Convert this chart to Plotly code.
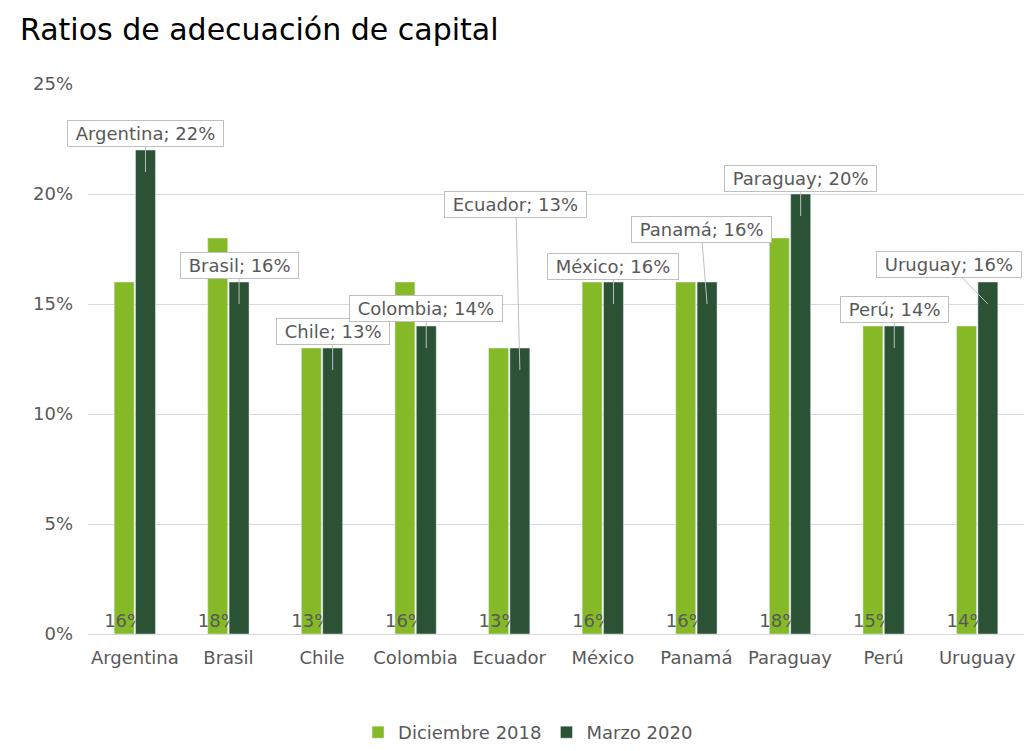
import plotly.graph_objects as go

categories = ["Argentina", "Brasil", "Chile", "Colombia", "Ecuador",
              "México", "Panamá", "Paraguay", "Perú", "Uruguay"]
dic_2018 = [0.16, 0.18, 0.13, 0.16, 0.13, 0.16, 0.16, 0.18, 0.14, 0.14]
dic_2018_labels = ["16%", "18%", "13%", "16%", "13%", "16%", "16%", "18%", "15%", "14%"]
mar_2020 = [0.22, 0.16, 0.13, 0.14, 0.13, 0.16, 0.16, 0.20, 0.14, 0.16]
y_ticks = [0, 0.05, 0.10, 0.15, 0.20, 0.25]
y_tick_labels = ["0%", "5%", "10%", "15%", "20%", "25%"]

# callout offsets (pixels) from arrow tip to label box centre
callout_ax = [0, 0, 0, 0, -4, 0, -6, 0, 0, -39]
callout_ay = [-39, -39, -39, -40, -166, -38, -75, -38, -39, -40]

LIGHT = "#86B927"
DARK = "#2B5234"
GRAY = "#595959"
FONT = "DejaVu Sans"

fig = go.Figure()
fig.add_trace(go.Bar(
    name="Diciembre 2018", x=categories, y=dic_2018,
    marker_color=LIGHT, text=dic_2018_labels,
    textposition="inside", insidetextanchor="start", textangle=0,
    constraintext="none", insidetextfont=dict(color=GRAY, size=18, family=FONT),
    cliponaxis=False, hoverinfo="skip",
))
fig.add_trace(go.Bar(
    name="Marzo 2020", x=categories, y=mar_2020,
    marker_color=DARK, hoverinfo="skip",
))

annotations = []
for i, (c, v) in enumerate(zip(categories, mar_2020)):
    annotations.append(dict(
        x=i + 0.114, y=v, xref="x", yref="y",
        yshift=-22,
        text="\u00a0" + f"{c}; {round(v * 100):.0f}%" + "\u00a0",
        showarrow=True, arrowhead=0, arrowwidth=1, arrowcolor="#BFBFBF",
        ax=callout_ax[i], ay=callout_ay[i], axref="pixel", ayref="pixel",
        bgcolor="white", bordercolor="#BFBFBF", borderwidth=1, borderpad=2,
        font=dict(size=18, color=GRAY, family=FONT),
    ))

fig.update_layout(
    width=1024, height=751,
    margin=dict(l=88, r=0, t=83.5, b=117),
    paper_bgcolor="white", plot_bgcolor="white",
    font=dict(family=FONT, size=18, color=GRAY),
    title=dict(text="Ratios de adecuación de capital", x=20 / 1024, xanchor="left",
               xref="container", yref="container", y=1 - 29 / 751, yanchor="middle",
               font=dict(size=30, color="#000000", family=FONT)),
    barmode="group", bargap=0.544, bargroupgap=0.065,
    showlegend=True,
    legend=dict(orientation="h", x=0.2885, xanchor="left", y=-0.18, yanchor="middle",
                font=dict(size=18, color=GRAY, family=FONT), traceorder="normal"),
    annotations=annotations,
)
fig.update_xaxes(range=[-0.5, len(categories) - 0.5], autorange=False,
                 showgrid=False, showline=True, linecolor="#D9D9D9", linewidth=1,
                 ticks="", ticklabelstandoff=7,
                 tickfont=dict(size=18, color=GRAY, family=FONT))
fig.update_yaxes(range=[0, 0.25], tickvals=y_ticks, ticktext=y_tick_labels,
                 showgrid=True, gridcolor="#D9D9D9", gridwidth=1,
                 zeroline=False, showline=False, ticks="",
                 ticklabelstandoff=14,
                 tickfont=dict(size=18, color=GRAY, family=FONT))

fig.write_html(
    "out.html",
    config={"displayModeBar": False},
    post_script="document.body.style.margin='0';document.body.style.overflow='hidden';",
)
